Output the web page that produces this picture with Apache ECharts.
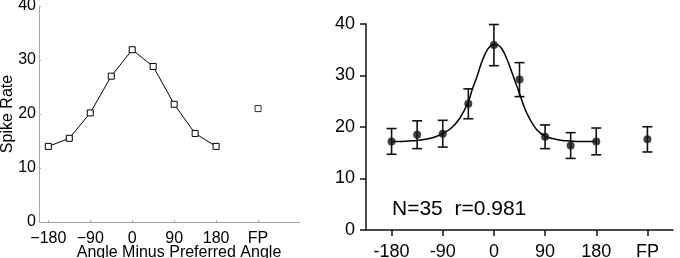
<!DOCTYPE html>
<html>
<head>
<meta charset="utf-8">
<script src="https://cdn.jsdelivr.net/npm/echarts@6/dist/echarts.min.js"></script>
<style>
  html, body { margin: 0; padding: 0; background: #fff; }
  #chart { width: 680px; height: 258px; }
</style>
</head>
<body>
<div id="chart"></div>
<script>
// stimulus angles (deg from preferred); FP sits at its own slot
const angles = [-180, -135, -90, -45, 0, 45, 90, 135, 180]
const fpPos = 270
const tickValues = [-180, -90, 0, 90, 180, 270]

// left panel: single cell
const leftRates = [14.0, 15.5, 20.2, 27.0, 31.9, 28.8, 21.8, 16.4, 14.0]
const leftFP = 21.0

// right panel: population mean +/- sem
const rightMeans = [17.2, 18.5, 18.7, 24.5, 35.9, 29.2, 18.1, 16.4, 17.2]
const rightSem = [2.5, 2.7, 2.6, 2.9, 4.0, 3.3, 2.3, 2.5, 2.6]
const rightFP = 17.6
const rightFPSem = 2.45

// fitted curve
const fitAngles = [-180, -165, -150, -135, -120, -105, -90, -75, -60, -45, -37.5, -30, -22.5, -15, -7.5,
  0, 7.5, 15, 22.5, 30, 37.5, 45, 52.5, 60, 75, 90, 105, 120, 135, 150, 165, 180]
const fitRates = [17.2, 17.2, 17.3, 17.4, 17.6, 18.0, 18.7, 19.8, 21.7, 24.9, 27.5, 29.7, 32.3, 34.3, 35.6,
  36.0, 35.9, 35.0, 33.3, 31.1, 28.8, 26.5, 24.1, 22.2, 19.5, 18.2, 17.7, 17.4, 17.3, 17.2, 17.2, 17.2]

const font = '"Liberation Sans", Arial, Helvetica, sans-serif'

const leftLine = angles.map((a, i) => [a, leftRates[i]])
const rightDots = angles.map((a, i) => [a, rightMeans[i]]).concat([[fpPos, rightFP]])
const rightBars = angles.map((a, i) => [a, rightMeans[i] - rightSem[i], rightMeans[i] + rightSem[i]])
  .concat([[fpPos, rightFP - rightFPSem, rightFP + rightFPSem]])
const fitLine = fitAngles.map((a, i) => [a, fitRates[i]])

function leftLabel(v) {
  if (v === fpPos) return 'FP'
  return v < 0 ? '\u2212' + Math.abs(v) : String(v)
}
function rightLabel(v) {
  return v === fpPos ? 'FP' : String(v)
}

const gray = '#a8a8a8'

const chart = echarts.init(document.getElementById('chart'))
chart.setOption({
  animation: false,
  textStyle: { fontFamily: font },
  grid: [
    { left: 39, top: 6, width: 261, height: 216, outerBoundsMode: 'none', containLabel: false },
    { left: 366, top: 24, width: 307, height: 206, outerBoundsMode: 'none', containLabel: false }
  ],
  xAxis: [
    {
      gridIndex: 0, type: 'value', min: -200, max: 360,
      axisLine: { onZero: false, lineStyle: { color: gray, width: 1 } },
      axisTick: { inside: true, length: 2, lineStyle: { color: gray }, customValues: tickValues },
      axisLabel: { customValues: tickValues, formatter: leftLabel, color: '#000', fontSize: 16, margin: 9, fontFamily: font },
      splitLine: { show: false },
      name: 'Angle Minus Preferred Angle', nameLocation: 'middle', nameGap: 23, nameMoveOverlap: false,
      nameTextStyle: { color: '#000', fontSize: 16, fontFamily: font, padding: [0, 0, 0, 19] }
    },
    {
      gridIndex: 1, type: 'value', min: -225, max: 315,
      axisLine: { onZero: false, lineStyle: { color: '#111', width: 1.5 } },
      axisTick: { length: 6, lineStyle: { color: '#111', width: 1.5 }, customValues: tickValues },
      axisLabel: { customValues: tickValues, formatter: rightLabel, color: '#000', fontSize: 18, margin: 13, fontFamily: font },
      splitLine: { show: false }
    }
  ],
  yAxis: [
    {
      gridIndex: 0, type: 'value', min: 0, max: 40, interval: 10,
      axisLine: { show: true, onZero: false, lineStyle: { color: gray, width: 1 } },
      axisTick: { show: true, inside: true, length: 2, lineStyle: { color: gray } },
      axisLabel: { color: '#000', fontSize: 16, margin: 3, fontFamily: font },
      splitLine: { show: false },
      name: 'Spike Rate', nameLocation: 'middle', nameGap: 23, nameMoveOverlap: false,
      nameTextStyle: { color: '#000', fontSize: 16, fontFamily: font }
    },
    {
      gridIndex: 1, type: 'value', min: 0, max: 40, interval: 10,
      axisLine: { show: true, onZero: false, lineStyle: { color: '#111', width: 1.5 } },
      axisTick: { show: true, length: 6, lineStyle: { color: '#111', width: 1.5 } },
      axisLabel: { color: '#000', fontSize: 18, margin: 11, fontFamily: font },
      splitLine: { show: false }
    }
  ],
  graphic: [
    {
      type: 'text', left: 392, top: 199,
      style: { text: 'N=35  r=0.981', font: '21px ' + font, fill: '#000' }
    }
  ],
  series: [
    {
      type: 'line', xAxisIndex: 0, yAxisIndex: 0, data: leftLine,
      symbol: 'rect', symbolSize: 6,
      lineStyle: { color: '#000', width: 1 },
      itemStyle: { color: '#fff', borderColor: '#000', borderWidth: 1 }
    },
    {
      type: 'scatter', xAxisIndex: 0, yAxisIndex: 0, data: [[fpPos, leftFP]],
      symbol: 'rect', symbolSize: 6,
      itemStyle: { color: '#fff', borderColor: '#000', borderWidth: 1 }
    },
    {
      type: 'line', xAxisIndex: 1, yAxisIndex: 1, data: fitLine,
      smooth: 0.4, symbol: 'none',
      lineStyle: { color: '#000', width: 1.5 }
    },
    {
      type: 'custom', xAxisIndex: 1, yAxisIndex: 1, data: rightBars,
      renderItem: function(params, api) {
        const x = api.value(0)
        const top = api.coord([x, api.value(2)])
        const bot = api.coord([x, api.value(1)])
        const hw = 5
        const st = { stroke: '#111', lineWidth: 1.6 }
        return {
          type: 'group',
          children: [
            { type: 'line', shape: { x1: top[0], y1: top[1], x2: bot[0], y2: bot[1] }, style: st },
            { type: 'line', shape: { x1: top[0] - hw, y1: top[1], x2: top[0] + hw, y2: top[1] }, style: st },
            { type: 'line', shape: { x1: bot[0] - hw, y1: bot[1], x2: bot[0] + hw, y2: bot[1] }, style: st }
          ]
        }
      }
    },
    {
      type: 'scatter', xAxisIndex: 1, yAxisIndex: 1, data: rightDots,
      symbol: 'circle', symbolSize: 8, z: 5,
      itemStyle: { color: '#111' }
    }
  ]
})
</script>
</body>
</html>
